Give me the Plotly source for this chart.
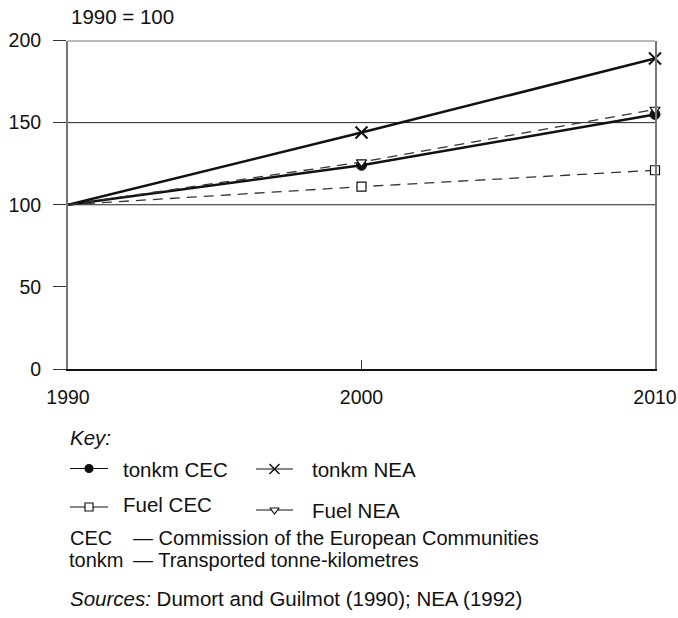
import plotly.graph_objects as go

# Index values, 1990 = 100
years = [1990, 2000, 2010]
tonkm_cec = [100, 124, 155]
tonkm_nea = [100, 144, 189]
fuel_cec = [100, 111, 121]
fuel_nea = [100, 126, 158]

y_ticks = [0, 50, 100, 150, 200]
ref_lines = [100, 150]

W, H = 678, 618
FONT = "Liberation Sans, Arial, sans-serif"
FS_TICK = 19.5
FS_TEXT = 20.5

# plot box in pixels
L, R, T, B = 68, 655, 40.5, 369

series = [
    dict(name="tonkm CEC", y=tonkm_cec, dash="solid", width=2.5, color="#111",
         symbol="circle", msize=10, mfill="#111", mline=1),
    dict(name="tonkm NEA", y=tonkm_nea, dash="solid", width=2.5, color="#111",
         symbol="x-thin-open", msize=12, mfill="#111", mline=2),
    dict(name="Fuel CEC", y=fuel_cec, dash="10px,7px", width=1.3, color="#333",
         symbol="square", msize=9, mfill="white", mline=1.2),
    dict(name="Fuel NEA", y=fuel_nea, dash="10px,7px", width=1.3, color="#333",
         symbol="triangle-down", msize=9, mfill="white", mline=1.2),
]

fig = go.Figure()

for s in series:
    fig.add_trace(go.Scatter(
        x=years, y=s["y"], mode="lines", name=s["name"], showlegend=False,
        line=dict(color=s["color"], width=s["width"], dash=s["dash"]),
        hoverinfo="skip",
    ))
for s in series:
    fig.add_trace(go.Scatter(
        x=years[1:], y=s["y"][1:], mode="markers", showlegend=False,
        marker=dict(symbol=s["symbol"], size=s["msize"], color=s["mfill"],
                    line=dict(color="#111", width=s["mline"])),
        cliponaxis=False, hoverinfo="skip",
    ))

# key block (drawn on an overlay axis measured in pixels)
key_rows = [468.5, 469, 507, 510]
key_x0 = [70, 256, 70, 256]
key_x1 = [108, 293, 108, 293]
key_text_x = [121, 310, 121, 310]
key_text_y = [469, 469, 504.5, 510.5]
key_msize = [8, 10, 8, 8]

for i, s in enumerate(series):
    xm = (key_x0[i] + key_x1[i]) / 2
    fig.add_trace(go.Scatter(
        x=[key_x0[i], xm, key_x1[i]], y=[key_rows[i]] * 3, xaxis="x2", yaxis="y2",
        mode="lines", line=dict(color="#111", width=1), showlegend=False,
        hoverinfo="skip",
    ))
    fig.add_trace(go.Scatter(
        x=[xm], y=[key_rows[i]], xaxis="x2", yaxis="y2", mode="markers",
        marker=dict(symbol=s["symbol"], size=key_msize[i], color=s["mfill"],
                    line=dict(color="#111", width=1.2 if i != 1 else 1.5)),
        showlegend=False, hoverinfo="skip", cliponaxis=False,
    ))

annotations = [
    dict(x=69, y=16, text="1990 = 100"),
    dict(x=68, y=437, text="<i>Key:</i>"),
    dict(x=68, y=537.5, text="CEC", size=20),
    dict(x=131, y=537.5, text="— Commission of the European Communities", size=20),
    dict(x=67, y=560, text="tonkm", size=20),
    dict(x=131, y=560, text="— Transported tonne-kilometres", size=20),
    dict(x=68, y=598, text="<i>Sources:</i> Dumort and Guilmot (1990); NEA (1992)"),
]
for i, s in enumerate(series):
    annotations.append(dict(x=key_text_x[i], y=key_text_y[i], text=s["name"]))

for a in annotations:
    size = a.pop("size", FS_TEXT)
    a.update(xref="x2", yref="y2", xanchor="left", yanchor="middle",
             showarrow=False, font=dict(family=FONT, size=size, color="#111"))

shapes = [
    # horizontal reference lines
    *[dict(type="line", xref="x", yref="y", x0=years[0], x1=years[-1], y0=v, y1=v,
           line=dict(color="#222", width=1), layer="below") for v in ref_lines],
    # top border
    dict(type="line", xref="x", yref="y", x0=years[0], x1=years[-1],
         y0=y_ticks[-1], y1=y_ticks[-1], line=dict(color="#777", width=2)),
]

fig.update_layout(
    width=W, height=H,
    margin=dict(l=0, r=0, t=0, b=0, autoexpand=False),
    paper_bgcolor="white", plot_bgcolor="rgba(0,0,0,0)",
    font=dict(family=FONT, size=FS_TICK, color="#111"),
    showlegend=False,
    xaxis=dict(
        domain=[L / W, R / W], range=[years[0], years[-1]], anchor="y",
        tickvals=years, ticktext=[str(y) for y in years],
        ticks="inside", ticklen=9, tickcolor="#333", tickwidth=1,
        showline=True, linecolor="#111", linewidth=1.5,
        showgrid=False, zeroline=False, ticklabelstandoff=10, automargin=False,
        tickfont=dict(family=FONT, size=FS_TICK, color="#111"),
    ),
    yaxis=dict(
        domain=[(H - B) / H, (H - T) / H], range=[y_ticks[0], y_ticks[-1]], anchor="x",
        tickvals=y_ticks, ticks="outside", ticklen=13, tickcolor="#333", tickwidth=1,
        showline=True, linecolor="#777", linewidth=2, mirror=True,
        showgrid=False, zeroline=False, ticklabelstandoff=8, automargin=False,
        tickfont=dict(family=FONT, size=FS_TICK, color="#111"),
    ),
    xaxis2=dict(domain=[0, 1], range=[0, W], visible=False, fixedrange=True,
                anchor="y2"),
    yaxis2=dict(domain=[0, 1], range=[H, 0], visible=False, fixedrange=True,
                anchor="x2"),
    annotations=annotations,
    shapes=shapes,
)

fig.write_html("out.html")
